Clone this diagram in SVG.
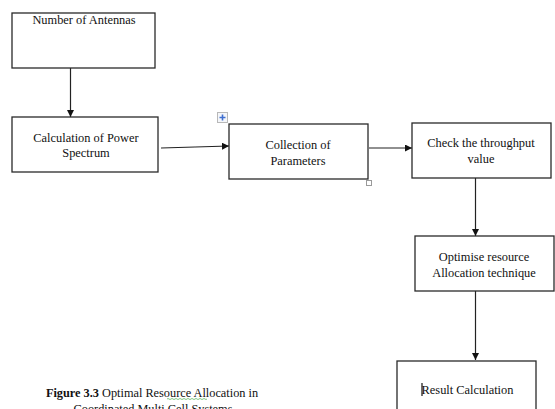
<svg xmlns="http://www.w3.org/2000/svg" width="555" height="409" viewBox="0 0 555 409">
<style>
.box{fill:#fff;stroke:#2a2a2a;stroke-width:1.3}
.t{font-family:"Liberation Serif","Times New Roman",serif;font-size:12.4px;fill:#111;text-anchor:middle}
.c{stroke:#222;stroke-width:1.2;fill:none;marker-end:url(#ah)}
</style>
<defs>
<marker id="ah" viewBox="0 0 10 10" refX="10" refY="5" markerWidth="7" markerHeight="7" markerUnits="userSpaceOnUse" orient="auto">
<path d="M0,0 L10,5 L0,10 z" fill="#111"/>
</marker>
</defs>
<rect width="555" height="409" fill="#fff"/>
<g id="connectors">
<line class="c" x1="70.5" y1="68" x2="70.5" y2="117"/>
<line class="c" x1="161" y1="148" x2="229" y2="146"/>
<line class="c" x1="369" y1="148" x2="412" y2="148"/>
<line class="c" x1="475.5" y1="178" x2="475.5" y2="236"/>
<line class="c" x1="475.5" y1="291" x2="475.5" y2="360"/>
</g>
<g id="n1">
<rect class="box" x="12" y="13" width="143" height="55"/>
<text class="t" x="84" y="24">Number of Antennas</text>
</g>
<g id="n2">
<rect class="box" x="12" y="117" width="146" height="55"/>
<text class="t" x="86" y="142">Calculation of Power</text>
<text class="t" x="86" y="157">Spectrum</text>
</g>
<g id="n3">
<rect class="box" x="229" y="124" width="139" height="55"/>
<text class="t" x="298" y="149">Collection of</text>
<text class="t" x="298" y="165">Parameters</text>
<rect x="217.5" y="112.5" width="10" height="10" fill="#f4f6fa" stroke="#b8b8b8" stroke-width="1"/>
<path d="M222.5,114.5 v6 M219.5,117.5 h6" stroke="#3f6fd0" stroke-width="1.6"/>
<rect x="366.5" y="180.5" width="5" height="5" fill="#fff" stroke="#9a9a9a" stroke-width="1"/>
</g>
<g id="n4">
<rect class="box" x="412" y="123" width="139" height="55"/>
<text class="t" x="481" y="147">Check the throughput</text>
<text class="t" x="481" y="163">value</text>
</g>
<g id="n5">
<rect class="box" x="415" y="236" width="139" height="55"/>
<text class="t" x="484" y="261">Optimise resource</text>
<text class="t" x="484" y="277">Allocation technique</text>
</g>
<g id="n6">
<rect class="box" x="397" y="361" width="139" height="60"/>
<text class="t" x="467.5" y="394">Result Calculation</text>
<line x1="422" y1="383" x2="422" y2="396" stroke="#111" stroke-width="1.2"/>
</g>
<g id="caption">
<text class="t" x="152" y="397" style="font-size:12.3px"><tspan font-weight="bold">Figure 3.3</tspan> Optimal Resource Allocation in</text>
<text class="t" x="153" y="413" style="font-size:12.3px">Coordinated Multi Cell Systems</text>
<path d="M167,399 q1,-1 2,0 t2,0 t2,0 t2,0 t2,0 t2,0 t2,0 t2,0 t2,0 t2,0 t2,0 t2,0 t2,0 t2,0 t2,0 t2,0 t2,0 t2,0 t2,0 t2,0" stroke="#4caf50" stroke-width="0.7" fill="none"/>
</g>
</svg>
